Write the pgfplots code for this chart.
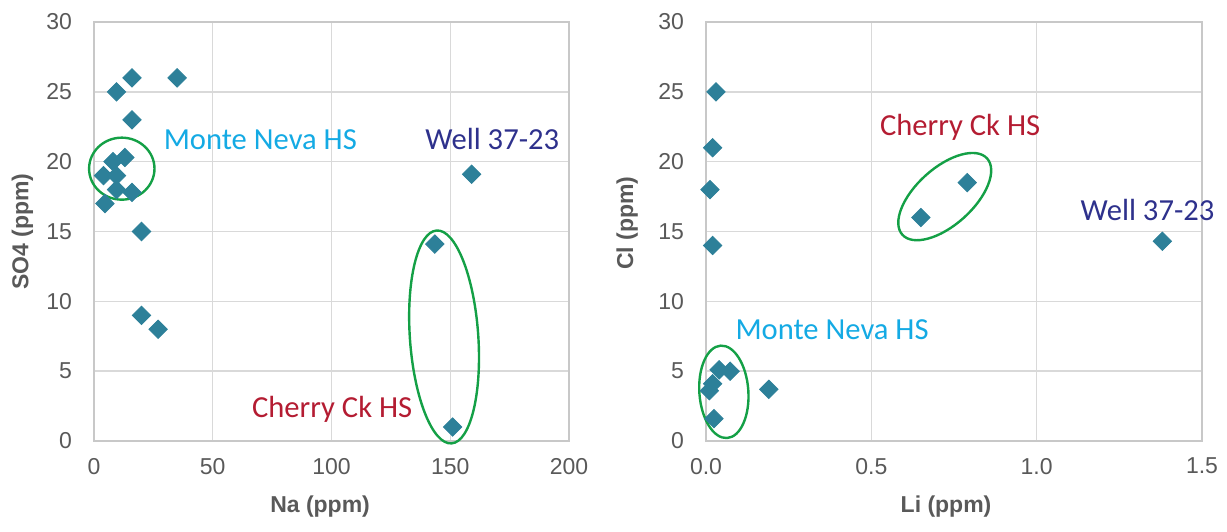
\documentclass[border=0pt]{standalone}
\usepackage{fontspec}
\setmainfont{Liberation Sans}
\newfontfamily\anno{Carlito}
\usepackage{pgfplots}
\pgfplotsset{compat=1.18}
\usetikzlibrary{shapes.geometric}
\definecolor{markc}{RGB}{45,128,153}
\definecolor{gridc}{RGB}{217,217,217}
\definecolor{axisc}{RGB}{200,200,200}
\definecolor{tickc}{RGB}{89,89,89}
\definecolor{montec}{RGB}{20,170,228}
\definecolor{cherryc}{RGB}{180,28,50}
\definecolor{wellc}{RGB}{46,49,140}
\definecolor{ellc}{RGB}{20,160,70}
\pgfplotsset{
  mystyle/.style={
    scale only axis, anchor=south west, clip=false,
    grid=major, major grid style={draw=gridc, line width=0.7pt},
    axis line style={draw=axisc, line width=0.8pt},
    tick style={draw=none},
    ticklabel style={font=\fontsize{11.5}{13}\selectfont, text=tickc},
    /pgf/number format/assume math mode=true,
    yticklabel style={xshift=-7.5pt},
    xticklabel style={yshift=-5pt},
    label style={font=\bfseries\fontsize{11.5}{13}\selectfont, text=tickc},
    ymin=0, ymax=30, ytick={0,5,...,30},
  },
}
\tikzset{
  annot/.style={anchor=base west, inner sep=0pt, font=\anno\fontsize{15.3}{18}\selectfont},
  ell/.style={draw=ellc, line width=1.2pt, ellipse, inner sep=0pt, outer sep=0pt},
}
\begin{document}
\begin{tikzpicture}
\useasboundingbox (0,0) rectangle (613.5pt,265.5pt);
\begin{axis}[mystyle, at={(47pt,45pt)}, width=237.5pt, height=209.5pt,
  xmin=0, xmax=200, xtick={0,50,...,200},
  xlabel={Na (ppm)}, ylabel={SO4 (ppm)},
  xlabel style={at={(axis description cs:0.476,-0.1575)}, anchor=center},
  ylabel style={at={(axis description cs:-0.1505,0.5)}, anchor=center},
]
\addplot[only marks, mark=square*, mark size=3.25pt, mark options={rotate=45, fill=markc, draw=markc}]
coordinates {
(16,26) (35,26) (9.5,25) (16,23) (13,20.3) (8,20) (4,19) (9.5,19) (9.5,18)
(16,17.8) (4.6,17) (20,15) (20,9) (27,8) (143.5,14.1) (151,1) (159,19.1)
};
\node[ell, minimum width=32.7pt, minimum height=31pt] at (axis cs:11.7,19.5) {};
\node[ell, minimum width=34.2pt, minimum height=106.7pt, rotate=4] at (axis cs:147.4,7.45) {};
\node[annot, text=montec] at (axis cs:29.2,20.9) {Monte Neva HS};
\node[annot, text=wellc] at (axis cs:139.4,20.9) {Well 37-23};
\node[annot, text=cherryc] at (axis cs:66.4,1.7) {Cherry Ck HS};
\end{axis}
\begin{axis}[mystyle, at={(353pt,45pt)}, width=248pt, height=209.5pt,
  xmin=0, xmax=1.5, xtick={0,0.5,1,1.5}, xticklabels={0.0,0.5,1.0,1.5},
  xlabel={Li (ppm)}, ylabel={Cl (ppm)},
  xlabel style={at={(axis description cs:0.484,-0.1575)}, anchor=center},
  ylabel style={at={(axis description cs:-0.159,0.52)}, anchor=center},
]
\addplot[only marks, mark=square*, mark size=3.25pt, mark options={rotate=45, fill=markc, draw=markc}]
coordinates {
(0.03,25) (0.02,21) (0.012,18) (0.02,14) (0.65,16) (0.79,18.5) (1.38,14.3)
(0.04,5.1) (0.073,5) (0.02,4.1) (0.01,3.6) (0.19,3.7) (0.024,1.6)
};
\node[ell, minimum width=24.5pt, minimum height=46.3pt, rotate=4] at (axis cs:0.054,3.52) {};
\node[ell, minimum width=57pt, minimum height=28.5pt, rotate=42] at (axis cs:0.722,17.5) {};
\node[annot, text=cherryc] at (axis cs:0.525,21.9) {Cherry Ck HS};
\node[annot, text=montec] at (axis cs:0.088,7.25) {Monte Neva HS};
\node[annot, text=wellc] at (axis cs:1.132,15.8) {Well 37-23};
\end{axis}
\end{tikzpicture}
\end{document}
